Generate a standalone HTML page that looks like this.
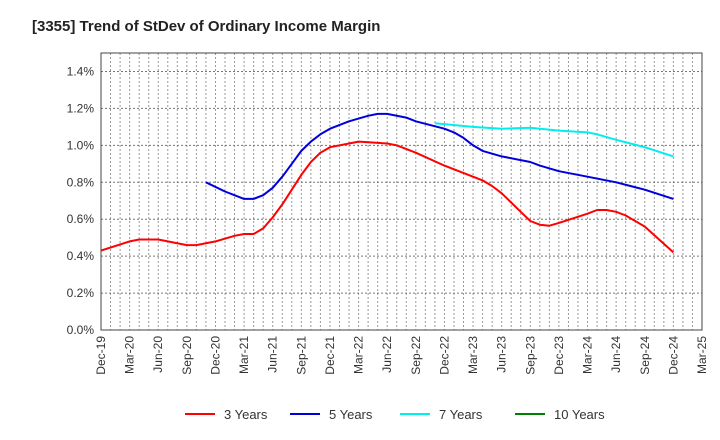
<!DOCTYPE html>
<html><head><meta charset="utf-8"><style>
body{margin:0;background:#fff;font-family:"Liberation Sans",sans-serif}
svg{display:block}
</style></head><body>
<svg id="chart" width="720" height="440">
<text x="32" y="31" font-size="15" font-weight="bold" fill="#222">[3355]  Trend of StDev of Ordinary Income Margin</text>
<g id="grid"></g>
<g id="axes"></g>
<g id="series"></g>
<g id="legend"></g>
</svg>
<script>
const xTickLabels=["Dec-19","Mar-20","Jun-20","Sep-20","Dec-20","Mar-21","Jun-21","Sep-21","Dec-21","Mar-22","Jun-22","Sep-22","Dec-22","Mar-23","Jun-23","Sep-23","Dec-23","Mar-24","Jun-24","Sep-24","Dec-24","Mar-25"];
const yTickValues=[0,0.2,0.4,0.6,0.8,1.0,1.2,1.4];
const y3Months=[0,3,4,6,9,10,12,14,15,16,17,18,19,20,21,22,23,24,26,27,30,31,33,36,39,40,41,42,44,45,46,47,48,51,52,53,54,55,57,60];
const y3Values=[0.43,0.48,0.49,0.49,0.46,0.46,0.48,0.51,0.52,0.52,0.55,0.61,0.68,0.76,0.84,0.91,0.96,0.99,1.01,1.02,1.01,1.00,0.96,0.89,0.83,0.81,0.78,0.74,0.64,0.59,0.57,0.565,0.58,0.63,0.65,0.65,0.64,0.62,0.56,0.42];
const y5Months=[11,13,15,16,17,18,19,20,21,22,23,24,26,28,29,30,32,33,36,37,38,39,40,42,45,46,48,51,54,57,60];
const y5Values=[0.80,0.75,0.71,0.71,0.73,0.77,0.83,0.90,0.97,1.02,1.06,1.09,1.13,1.16,1.17,1.17,1.15,1.13,1.09,1.07,1.04,1.00,0.97,0.94,0.91,0.89,0.86,0.83,0.80,0.76,0.71];
const y7Months=[35,39,42,45,48,51,52,54,57,60];
const y7Values=[1.12,1.10,1.09,1.095,1.08,1.07,1.06,1.03,0.99,0.94];
const y10Months=[];
const y10Values=[];
const L=101,R=702,T=53,B=330,yMax=1.5,nMonths=63;
const xS=m=>L+(R-L)*m/nMonths;
const yS=v=>B-(B-T)*v/yMax;
const NS="http://www.w3.org/2000/svg";
function mk(tag,attrs,parent){const e=document.createElementNS(NS,tag);for(const k in attrs)e.setAttribute(k,attrs[k]);parent.appendChild(e);return e;}
const grid=document.getElementById('grid'),axes=document.getElementById('axes'),series=document.getElementById('series'),legend=document.getElementById('legend');
for(let m=1;m<nMonths;m++){const l=mk('line',{x1:xS(m),x2:xS(m),y1:T,y2:B,stroke:'#999','stroke-width':1,'stroke-dasharray':'2,2'},grid);

}
yTickValues.forEach(v=>{if(v>0){const l=mk('line',{x1:L,x2:R,y1:yS(v),y2:yS(v),stroke:'#777','stroke-width':1,'stroke-dasharray':'2,2'},grid);

}
const t=mk('text',{x:L-7,y:yS(v)+4,'font-size':12,'text-anchor':'end',fill:'#333'},axes);t.textContent=v.toFixed(1)+'%';

});
const fr=mk('rect',{x:L,y:T,width:R-L,height:B-T,fill:'none',stroke:'#444','stroke-width':1},axes);


xTickLabels.forEach((s,i)=>{const x=xS(i*3);const t=mk('text',{x:0,y:0,'font-size':12,'text-anchor':'end',fill:'#333',transform:`translate(${x+4},${B+6}) rotate(-90)`},axes);t.textContent=s;

});
function line(ms,vs,color,name){if(!ms.length)return;const d=ms.map((m,i)=>(i?'L':'M')+xS(m).toFixed(1)+','+yS(vs[i]).toFixed(1)).join(' ');
const p=mk('path',{d:d,fill:'none',stroke:color,'stroke-width':2,'stroke-linejoin':'round'},series);

}
line(y3Months,y3Values,'#ff0000','line-3-years');
line(y5Months,y5Values,'#0000dd','line-5-years');
line(y7Months,y7Values,'#00eeee','line-7-years');
line(y10Months,y10Values,'#008000','line-10-years');
const legendLabels=["3 Years","5 Years","7 Years","10 Years"];
const legendColors=['#ff0000','#0000dd','#00eeee','#008000'];
const legendX=[185,290,400,515];
legendLabels.forEach((s,i)=>{const g=mk('g',{},legend);


mk('line',{x1:legendX[i],x2:legendX[i]+30,y1:414,y2:414,stroke:legendColors[i],'stroke-width':2},g);
const t=mk('text',{x:legendX[i]+39,y:419,'font-size':13,fill:'#333'},g);t.textContent=s;});
</script>
</body></html>
